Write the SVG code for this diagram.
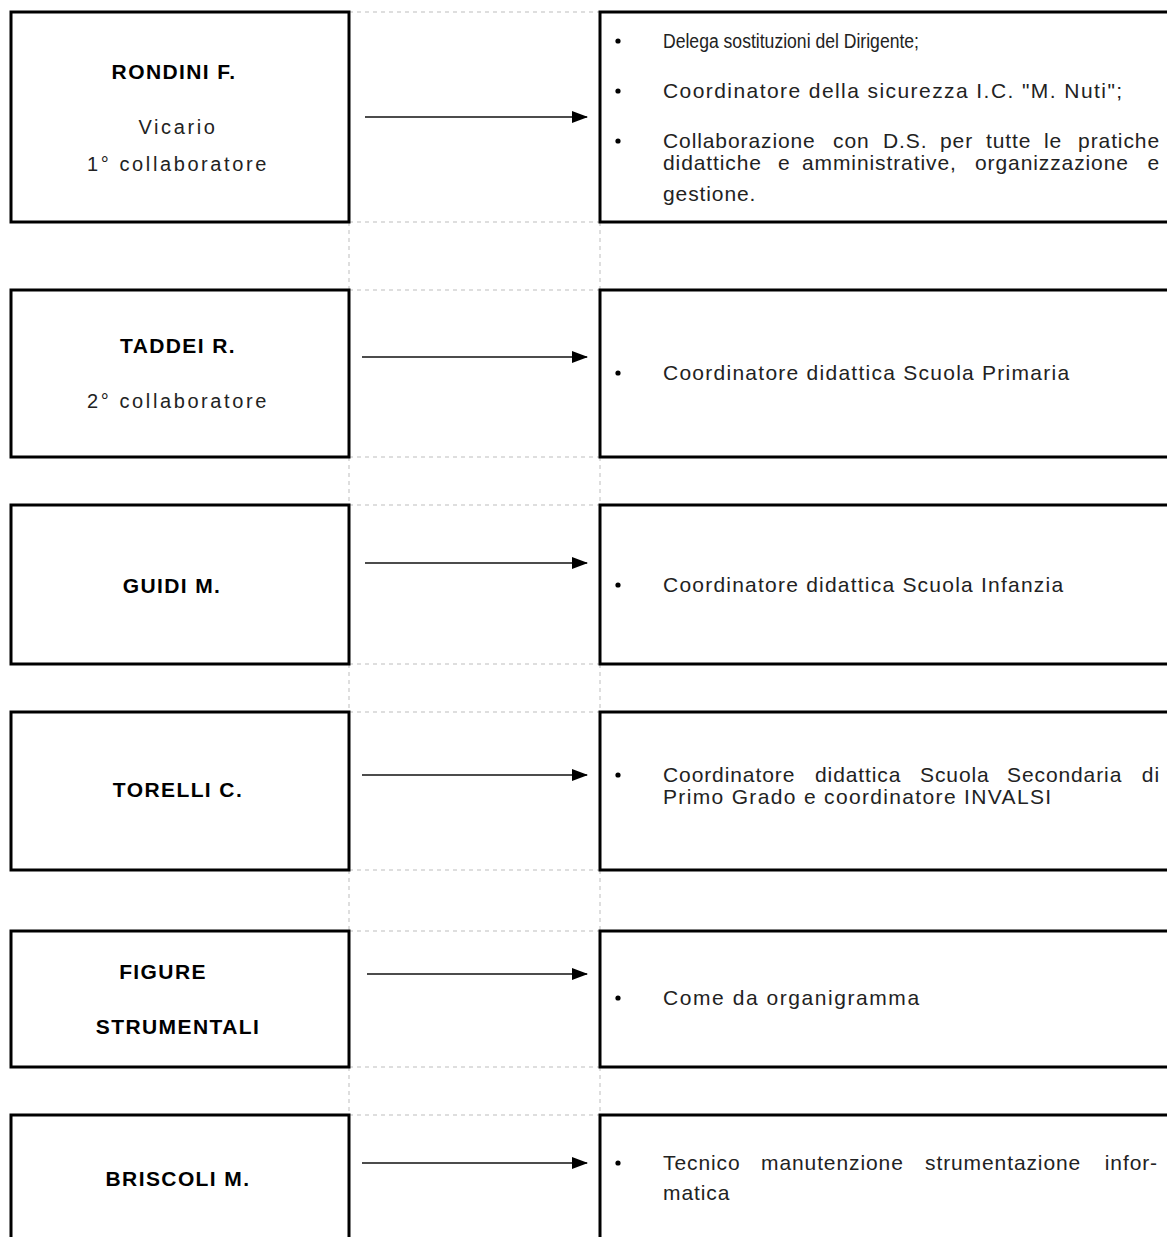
<svg xmlns="http://www.w3.org/2000/svg" width="1167" height="1237" viewBox="0 0 1167 1237">
<style>
.box{fill:#fff;stroke:#000;stroke-width:3}
.grid{stroke:#bdbdbd;stroke-width:1;stroke-dasharray:4 4;fill:none}
.name{font-family:"Liberation Sans",Arial,sans-serif;font-weight:bold;font-size:21px;letter-spacing:1.4px;text-anchor:middle;fill:#000}
.role{font-family:"Liberation Sans",Arial,sans-serif;font-size:20px;letter-spacing:2.6px;text-anchor:middle;fill:#222}
.txt{font-family:"Liberation Sans",Arial,sans-serif;font-size:21px;letter-spacing:0.9px;fill:#222}
.narrow{font-size:19.5px;letter-spacing:0}
.arrow{stroke:#111;stroke-width:1.6;fill:none}
.dot{fill:#000}
</style>
<defs>
<marker id="ah" viewBox="0 0 16 12" refX="15" refY="6" markerWidth="16" markerHeight="12" markerUnits="userSpaceOnUse" orient="auto">
<path d="M0,0 L16,6 L0,12 Z" fill="#000"/>
</marker>
</defs>
<rect width="1167" height="1237" fill="#fff"/>
<g id="gridlines">
<path class="grid" d="M349,12H600 M349,222H600 M349,290H600 M349,457H600 M349,505H600 M349,664H600 M349,712H600 M349,870H600 M349,931H600 M349,1067H600 M349,1115H600"/>
<path class="grid" d="M349,222V290 M600,222V290 M349,457V505 M600,457V505 M349,664V712 M600,664V712 M349,870V931 M600,870V931 M349,1067V1115 M600,1067V1115"/>
</g>
<g id="node-rondini">
<rect class="box" x="11" y="12" width="338" height="210"/>
<text class="name" x="174" y="79">RONDINI F.</text>
<text class="role" x="178" y="134">Vicario</text>
<text class="role" x="178" y="171">1° collaboratore</text>
</g>
<g id="node-rondini-tasks">
<rect class="box" x="600" y="12" width="580" height="210"/>
<circle class="dot" cx="618" cy="41" r="2.6"/>
<circle class="dot" cx="618" cy="91" r="2.6"/>
<circle class="dot" cx="618" cy="141" r="2.6"/>
<text class="txt narrow" x="663" y="48" textLength="256" lengthAdjust="spacingAndGlyphs">Delega sostituzioni del Dirigente;</text>
<text class="txt" x="663" y="98" textLength="460" lengthAdjust="spacing">Coordinatore della sicurezza I.C. "M. Nuti";</text>
<text class="txt" y="148"><tspan x="663">Collaborazione</tspan><tspan x="833">con</tspan><tspan x="883">D.S.</tspan><tspan x="940">per</tspan><tspan x="986">tutte</tspan><tspan x="1044">le</tspan><tspan x="1160" text-anchor="end">pratiche</tspan></text>
<text class="txt" y="170"><tspan x="663">didattiche</tspan><tspan x="778">e</tspan><tspan x="802">amministrative,</tspan><tspan x="975">organizzazione</tspan><tspan x="1160" text-anchor="end">e</tspan></text>
<text class="txt" x="663" y="201">gestione.</text>
</g>
<g id="node-taddei">
<rect class="box" x="11" y="290" width="338" height="167"/>
<text class="name" x="178" y="353">TADDEI R.</text>
<text class="role" x="178" y="408">2° collaboratore</text>
</g>
<g id="node-taddei-tasks">
<rect class="box" x="600" y="290" width="580" height="167"/>
<circle class="dot" cx="618" cy="373" r="2.6"/>
<text class="txt" x="663" y="380" textLength="407" lengthAdjust="spacing">Coordinatore didattica Scuola Primaria</text>
</g>
<g id="node-guidi">
<rect class="box" x="11" y="505" width="338" height="159"/>
<text class="name" x="172" y="593">GUIDI M.</text>
</g>
<g id="node-guidi-tasks">
<rect class="box" x="600" y="505" width="580" height="159"/>
<circle class="dot" cx="618" cy="585" r="2.6"/>
<text class="txt" x="663" y="592" textLength="401" lengthAdjust="spacing">Coordinatore didattica Scuola Infanzia</text>
</g>
<g id="node-torelli">
<rect class="box" x="11" y="712" width="338" height="158"/>
<text class="name" x="178" y="797">TORELLI C.</text>
</g>
<g id="node-torelli-tasks">
<rect class="box" x="600" y="712" width="580" height="158"/>
<circle class="dot" cx="618" cy="775" r="2.6"/>
<text class="txt" y="782"><tspan x="663">Coordinatore</tspan><tspan x="815">didattica</tspan><tspan x="920">Scuola</tspan><tspan x="1007">Secondaria</tspan><tspan x="1160" text-anchor="end">di</tspan></text>
<text class="txt" x="663" y="804" textLength="389" lengthAdjust="spacing">Primo Grado e coordinatore INVALSI</text>
</g>
<g id="node-figure">
<rect class="box" x="11" y="931" width="338" height="136"/>
<text class="name" x="163" y="979">FIGURE</text>
<text class="name" x="178" y="1034">STRUMENTALI</text>
</g>
<g id="node-figure-tasks">
<rect class="box" x="600" y="931" width="580" height="136"/>
<circle class="dot" cx="618" cy="998" r="2.6"/>
<text class="txt" x="663" y="1005" textLength="257" lengthAdjust="spacing">Come da organigramma</text>
</g>
<g id="node-briscoli">
<rect class="box" x="11" y="1115" width="338" height="140"/>
<text class="name" x="178" y="1186">BRISCOLI M.</text>
</g>
<g id="node-briscoli-tasks">
<rect class="box" x="600" y="1115" width="580" height="140"/>
<circle class="dot" cx="618" cy="1163" r="2.6"/>
<text class="txt" y="1170"><tspan x="663">Tecnico</tspan><tspan x="761">manutenzione</tspan><tspan x="925">strumentazione</tspan><tspan x="1158" text-anchor="end">infor-</tspan></text>
<text class="txt" x="663" y="1200">matica</text>
</g>
<g id="connectors">
<line class="arrow" x1="365" y1="117" x2="587" y2="117" marker-end="url(#ah)"/>
<line class="arrow" x1="362" y1="357" x2="587" y2="357" marker-end="url(#ah)"/>
<line class="arrow" x1="365" y1="563" x2="587" y2="563" marker-end="url(#ah)"/>
<line class="arrow" x1="362" y1="775" x2="587" y2="775" marker-end="url(#ah)"/>
<line class="arrow" x1="367" y1="974" x2="587" y2="974" marker-end="url(#ah)"/>
<line class="arrow" x1="362" y1="1163" x2="587" y2="1163" marker-end="url(#ah)"/>
</g>
</svg>
